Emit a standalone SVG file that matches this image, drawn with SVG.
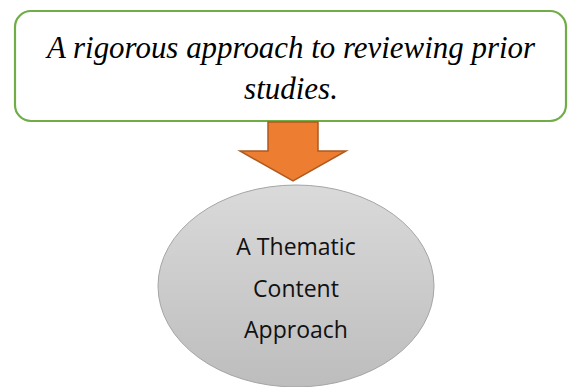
<svg xmlns="http://www.w3.org/2000/svg" width="569" height="387" viewBox="0 0 569 387">
<defs>
<linearGradient id="g" x1="0" y1="0" x2="0" y2="1">
<stop offset="0" stop-color="#dadada"/>
<stop offset="1" stop-color="#bdbdbd"/>
</linearGradient>
<style>
.top{font-family:"Liberation Serif",serif;font-style:italic;font-size:31px;fill:#000;text-anchor:middle}
.ell{font-family:"Open Sans","Noto Sans",sans-serif;font-size:23px;fill:#111;text-anchor:middle}
</style>
</defs>
<rect width="569" height="387" fill="#fff"/>
<g id="box">
<rect x="15" y="11" width="551" height="110" rx="16" ry="16" fill="#fff" stroke="#70ad47" stroke-width="2.2"/>
<text class="top" x="291" y="58" textLength="488" lengthAdjust="spacingAndGlyphs">A rigorous approach to reviewing prior</text>
<text class="top" x="291" y="99">studies.</text>
</g>
<g id="connectors">
<path d="M268,122 L318,122 L318,151 L346,151 L293,181 L240,151 L268,151 Z" fill="#ed7d31" stroke="#ae5a21" stroke-width="1.5"/>
</g>
<g id="ellipse">
<ellipse cx="296" cy="286" rx="138" ry="101" fill="url(#g)" stroke="#a5a5a5" stroke-width="1"/>
<text class="ell" x="296" y="255">A Thematic</text>
<text class="ell" x="296" y="297">Content</text>
<text class="ell" x="296" y="338">Approach</text>
</g>
</svg>
